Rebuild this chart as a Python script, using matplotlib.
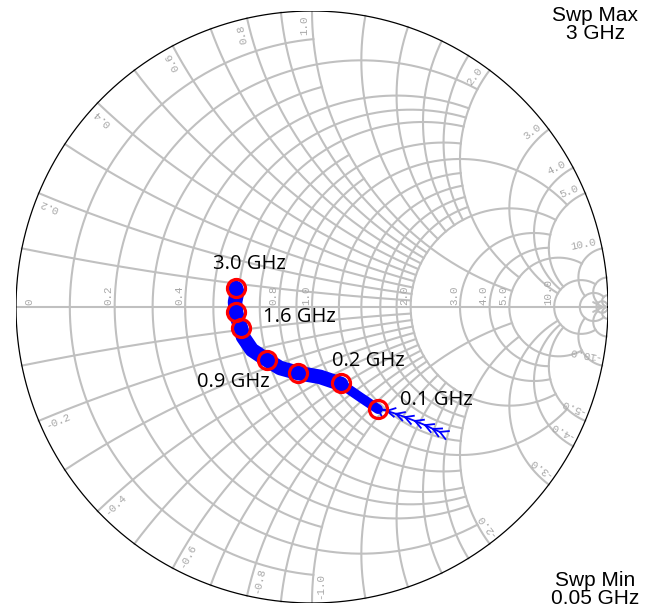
import numpy as np
import matplotlib
matplotlib.use("Agg")
import matplotlib.pyplot as plt

# S11 trace (reflection coefficient), 0.05 GHz -> 3 GHz
s11_re = [0.432, 0.409, 0.382, 0.348, 0.314, 0.284, 0.253, 0.223, 0.162, 0.098,
          0.027, -0.047, -0.108, -0.152, -0.203, -0.233, -0.240, -0.250, -0.257,
          -0.260, -0.253, -0.257]
s11_im = [-0.422, -0.412, -0.399, -0.385, -0.372, -0.361, -0.351, -0.345, -0.304,
          -0.260, -0.236, -0.223, -0.206, -0.179, -0.145, -0.101, -0.071, -0.044,
          -0.017, 0.017, 0.051, 0.064]
n_sparse = 8   # 0.05 .. 0.1 GHz, where single arrows can still be seen
n_thin = 10    # 0.1 .. 0.2 GHz, narrower band

# red markers
marker_re = [-0.257, -0.257, -0.240, -0.152, -0.047, 0.098, 0.223]
marker_im = [0.064, -0.017, -0.071, -0.179, -0.223, -0.257, -0.345]

# marker labels
label_text = ["3.0 GHz", "1.6 GHz", "0.9 GHz", "0.2 GHz", "0.1 GHz"]
label_re = [-0.213, -0.041, -0.267, 0.189, 0.419]
label_im = [0.145, -0.034, -0.253, -0.182, -0.314]

# grid lines: value, and how far each runs along the other coordinate
r_values = [0.1, 0.2, 0.3, 0.4, 0.5, 0.6, 0.7, 0.8, 0.9, 1.0,
            1.2, 1.4, 1.6, 1.8, 2.0, 3.0, 4.0, 5.0, 10.0, 20.0, 50.0]
r_extent = [1, 2, 1, 2, 2, 2, 1, 2, 1, 5,
            2, 2, 2, 2, 5, 5, 5, 10, 20, 50, np.inf]
x_values = [0.1, 0.2, 0.3, 0.4, 0.5, 0.6, 0.7, 0.8, 0.9, 1.0,
            1.2, 1.4, 1.6, 1.8, 2.0, 3.0, 4.0, 5.0, 10.0, 20.0, 50.0]
x_extent = [2, 2, 2, 2, 2, 2, 2, 2, 2, 5,
            2, 2, 2, 2, 5, 10, 10, 10, 20, 50, np.inf]

r_labels = [0, 0.2, 0.4, 0.6, 0.8, 1.0, 2.0, 3.0, 4.0, 5.0, 10.0]
x_labels = [0.2, 0.4, 0.6, 0.8, 1.0, 2.0, 3.0, 4.0, 5.0, 10.0]

grid_col = '#c0c0c0'
lab_col = '#a8a8a8'
mono = ['Liberation Mono', 'DejaVu Sans Mono']


def gamma(z):
    return (z - 1) / (z + 1)


def lim_angle(v):
    return np.pi / 2 * 0.9999 if np.isinf(v) else np.arctan(v)


fig = plt.figure(figsize=(6.56, 6.10), dpi=100)
ax = fig.add_axes([16 / 656, 7 / 610, 592 / 656, 592 / 610])
ax.set_xlim(-1, 1)
ax.set_ylim(-1, 1)
ax.axis('off')

# resistance circles
for r, xm in zip(r_values, r_extent):
    t = np.linspace(-lim_angle(xm), lim_angle(xm), 600)
    g = gamma(r + 1j * np.tan(t))
    ax.plot(g.real, g.imag, color=grid_col, lw=1.5, zorder=1)

# reactance arcs
for x, rm in zip(x_values, x_extent):
    t = np.linspace(0, lim_angle(rm), 600)
    for s in (1, -1):
        g = gamma(np.tan(t) + 1j * s * x)
        ax.plot(g.real, g.imag, color=grid_col, lw=1.5, zorder=1)

# real axis with arrow
ax.plot([-1, 0.96], [0, 0], color=grid_col, lw=1.5, zorder=1)
ax.annotate('', xy=(1, 0), xytext=(0.94, 0),
            arrowprops=dict(arrowstyle='->,head_length=0.7,head_width=0.35',
                            color=grid_col, lw=1.5), zorder=1)

# outer rim
th = np.linspace(0, 2 * np.pi, 720)
ax.plot(np.cos(th), np.sin(th), color='black', lw=0.9, zorder=2)

# resistance labels on the real axis
px = 1 / 296
for r in r_labels:
    g = gamma(r).real
    if r == 0:
        g = -1 + 19 * px
    ax.text(g - 1 * px, 2 * px, '%g' % r if r == 0 else '%.1f' % r,
            rotation=90, rotation_mode='anchor', ha='left', va='bottom',
            fontsize=7.8, color=lab_col, family=mono, zorder=2)

# reactance labels around the rim
for x in x_labels:
    for s in (1, -1):
        ang = np.angle(gamma(1j * s * x))
        pos = 0.985 * np.exp(1j * ang) + 3 * px * 1j * np.exp(1j * ang)
        txt = '%.1f' % (s * x)
        if s > 0:
            ax.text(pos.real, pos.imag, txt, rotation=np.degrees(ang),
                    rotation_mode='anchor', ha='right', va='bottom',
                    fontsize=7.8, color=lab_col, family=mono, zorder=2)
        else:
            ax.text(pos.real, pos.imag, txt, rotation=np.degrees(ang) + 180,
                    rotation_mode='anchor', ha='left', va='top',
                    fontsize=7.8, color=lab_col, family=mono, zorder=2)

# trace
re = np.array(s11_re)
im = np.array(s11_im)
ax.plot(re, im, color='blue', lw=1.3, zorder=3)
ax.plot(re[n_sparse - 1:n_thin], im[n_sparse - 1:n_thin], color='blue', lw=7,
        solid_capstyle='round', solid_joinstyle='round', zorder=3)
ax.plot(re[n_thin - 1:], im[n_thin - 1:], color='blue', lw=10.5,
        solid_capstyle='round', solid_joinstyle='round', zorder=3)

# arrow heads on the sparse part
L = 9 * px
for i in range(n_sparse):
    d = complex(re[i + 1] - re[i], im[i + 1] - im[i])
    d = d / abs(d)
    tip = complex(re[i], im[i])
    for a in (0.5, -0.5):
        w = tip - L * d * np.exp(1j * a)
        ax.plot([tip.real, w.real], [tip.imag, w.imag], color='blue',
                lw=1.3, zorder=3)

ax.plot(marker_re, marker_im, 'o', ms=13, mfc='none', mec='red', mew=2.3,
        zorder=4)

for t, x, y in zip(label_text, label_re, label_im):
    ax.text(x, y, t, ha='center', va='center', fontsize=14.5,
            family=['Open Sans', 'DejaVu Sans'], color='black', zorder=5)

fig.text(595 / 656, 1 - 6 / 610, 'Swp Max\n3 GHz', ha='center', va='top',
         fontsize=15, family=['Liberation Sans', 'DejaVu Sans'],
         linespacing=0.95)
fig.text(595 / 656, 2 / 610, 'Swp Min\n0.05 GHz', ha='center', va='bottom',
         fontsize=15, family=['Liberation Sans', 'DejaVu Sans'],
         linespacing=0.95)

fig.savefig('out.png', dpi=100)
